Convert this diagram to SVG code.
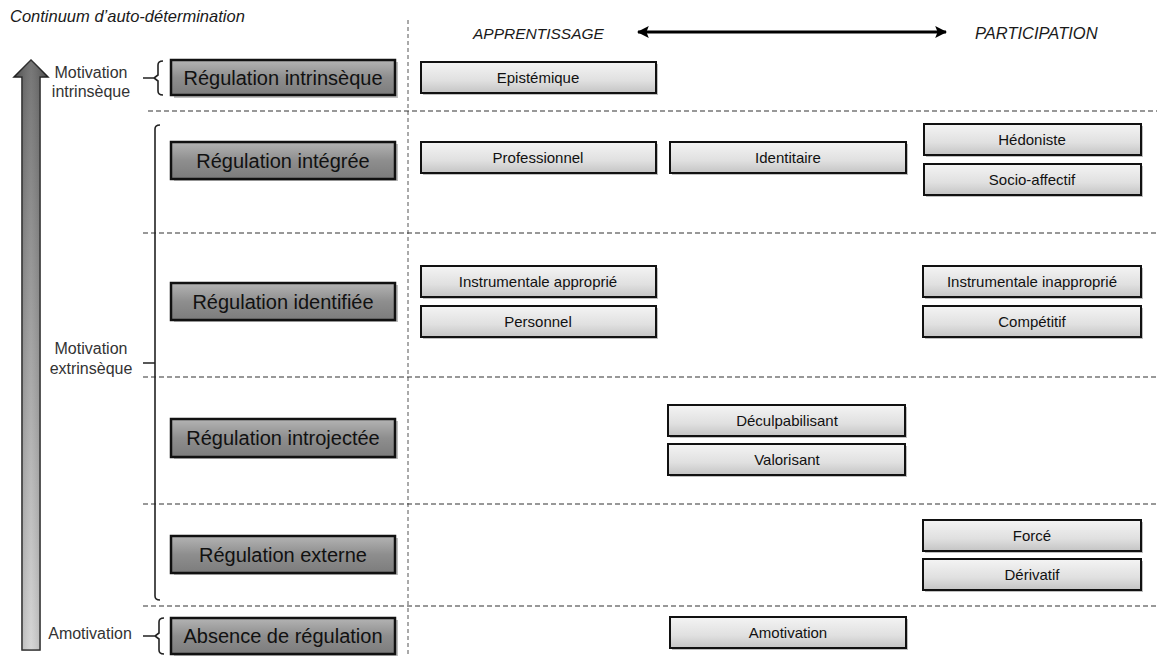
<svg xmlns="http://www.w3.org/2000/svg" width="1157" height="657" viewBox="0 0 1157 657">
<defs>
<linearGradient id="gBig" x1="0" y1="0" x2="0" y2="1">
<stop offset="0" stop-color="#b4b4b4"/>
<stop offset="0.5" stop-color="#8e8e8e"/>
<stop offset="1" stop-color="#7c7c7c"/>
</linearGradient>
<linearGradient id="gSmall" x1="0" y1="0" x2="0" y2="1">
<stop offset="0" stop-color="#f4f4f4"/>
<stop offset="0.6" stop-color="#e0e0e0"/>
<stop offset="1" stop-color="#c4c4c4"/>
</linearGradient>
<linearGradient id="gArrow" x1="0" y1="0" x2="0" y2="1">
<stop offset="0" stop-color="#5e5e5e"/>
<stop offset="1" stop-color="#cfcfcf"/>
</linearGradient>
<linearGradient id="gArrowH" x1="0" y1="0" x2="1" y2="0">
<stop offset="0" stop-color="#000" stop-opacity="0.25"/>
<stop offset="0.5" stop-color="#fff" stop-opacity="0.15"/>
<stop offset="1" stop-color="#000" stop-opacity="0.25"/>
</linearGradient>
<marker id="ah" viewBox="0 0 10 10" refX="9" refY="5" markerWidth="4" markerHeight="4" orient="auto-start-reverse" markerUnits="strokeWidth">
<path d="M0,0 L10,5 L0,10 L2,5 Z" fill="#000"/>
</marker>
</defs>
<style>
.t{font-family:"Liberation Sans",Arial,sans-serif;fill:#1a1a1a}
.it{font-style:italic}
.lab{font-size:16px;fill:#333}
.big rect.b{fill:url(#gBig);stroke:#111;stroke-width:2.5}
.big text{font-size:20px;text-anchor:middle;fill:#111}
.sm rect.b{fill:url(#gSmall);stroke:#111;stroke-width:2}
.sm text{font-size:15px;text-anchor:middle;fill:#111}
rect.sh{fill:#000;opacity:0.25}
.dash{stroke:#333;stroke-width:1.2;stroke-dasharray:5 3;fill:none}
.vdash{stroke:#555;stroke-width:1;stroke-dasharray:4 3;fill:none}
.br{stroke:#222;stroke-width:1.6;fill:none}
</style>
<rect width="1157" height="657" fill="#fff"/>

<text class="t it" x="10" y="22" style="font-size:16.5px">Continuum d’auto-détermination</text>
<text class="t it" x="473" y="39" style="font-size:15.5px">APPRENTISSAGE</text>
<text class="t it" x="975" y="39" style="font-size:16.5px">PARTICIPATION</text>

<g id="grid">
<line class="vdash" x1="408" y1="20" x2="408" y2="657"/>
<line class="dash" x1="148" y1="111" x2="1157" y2="111"/>
<line class="dash" x1="143" y1="233" x2="1157" y2="233"/>
<line class="dash" x1="143" y1="377" x2="1157" y2="377"/>
<line class="dash" x1="143" y1="504" x2="1157" y2="504"/>
<line class="dash" x1="143" y1="606" x2="1157" y2="606"/>
</g>

<g id="connectors">
<line x1="638" y1="32" x2="946" y2="32" stroke="#000" stroke-width="3" marker-start="url(#ah)" marker-end="url(#ah)"/>
</g>

<g id="continuum-arrow">
<path d="M31,60 L48,77 L40,77 L40,650 L22,650 L22,77 L14,77 Z" fill="url(#gArrow)" stroke="#222" stroke-width="1.5"/>
<path d="M31,60 L48,77 L40,77 L40,650 L22,650 L22,77 L14,77 Z" fill="url(#gArrowH)"/>
</g>

<g id="labels">
<text class="t lab" x="91" y="78" text-anchor="middle">Motivation</text>
<text class="t lab" x="91" y="97" text-anchor="middle">intrinsèque</text>
<text class="t lab" x="91" y="354" text-anchor="middle">Motivation</text>
<text class="t lab" x="91" y="374" text-anchor="middle">extrinsèque</text>
<text class="t lab" x="90" y="639" text-anchor="middle">Amotivation</text>
</g>

<g id="braces">
<path class="br" d="M163,61 Q158,61 158,65 L158,75 L154,78 L158,81 L158,91 Q158,95 163,95 M143,78 L154,78"/>
<path class="br" d="M160,125 Q155,125 155,129 L155,596 Q155,600 160,600 M143,363 L155,363"/>
<path class="br" d="M164,618 Q159,618 159,622 L159,633 L155,636 L159,639 L159,650 Q159,654 164,654 M143,636 L155,636"/>
</g>

<g id="reg-intrinseque" class="big"><rect class="sh" x="174" y="62" width="224" height="36"/><rect class="b" x="171" y="60" width="224" height="35"/><text class="t" x="283" y="85">Régulation intrinsèque</text></g>
<g id="reg-integree" class="big"><rect class="sh" x="174" y="144" width="224" height="37"/><rect class="b" x="171" y="142" width="224" height="37"/><text class="t" x="283" y="168">Régulation intégrée</text></g>
<g id="reg-identifiee" class="big"><rect class="sh" x="174" y="285" width="224" height="37"/><rect class="b" x="171" y="283" width="224" height="37"/><text class="t" x="283" y="309">Régulation identifiée</text></g>
<g id="reg-introjectee" class="big"><rect class="sh" x="174" y="421" width="224" height="38"/><rect class="b" x="171" y="419" width="224" height="38"/><text class="t" x="283" y="445">Régulation introjectée</text></g>
<g id="reg-externe" class="big"><rect class="sh" x="174" y="538" width="224" height="37"/><rect class="b" x="171" y="536" width="224" height="37"/><text class="t" x="283" y="562">Régulation externe</text></g>
<g id="reg-absence" class="big"><rect class="sh" x="174" y="620" width="224" height="36"/><rect class="b" x="171" y="618" width="224" height="36"/><text class="t" x="283" y="643">Absence de régulation</text></g>

<g id="epistemique" class="sm"><rect class="sh" x="423" y="64" width="235" height="31"/><rect class="b" x="421" y="62" width="235" height="31"/><text class="t" x="538" y="83">Epistémique</text></g>
<g id="professionnel" class="sm"><rect class="sh" x="423" y="144" width="235" height="31"/><rect class="b" x="421" y="142" width="235" height="31"/><text class="t" x="538" y="163">Professionnel</text></g>
<g id="identitaire" class="sm"><rect class="sh" x="672" y="144" width="236" height="31"/><rect class="b" x="670" y="142" width="236" height="31"/><text class="t" x="788" y="163">Identitaire</text></g>
<g id="hedoniste" class="sm"><rect class="sh" x="926" y="126" width="217" height="31"/><rect class="b" x="924" y="124" width="217" height="31"/><text class="t" x="1032" y="145">Hédoniste</text></g>
<g id="socio-affectif" class="sm"><rect class="sh" x="926" y="166" width="217" height="31"/><rect class="b" x="924" y="164" width="217" height="31"/><text class="t" x="1032" y="185">Socio-affectif</text></g>
<g id="instrumentale-approprie" class="sm"><rect class="sh" x="423" y="268" width="235" height="31"/><rect class="b" x="421" y="266" width="235" height="31"/><text class="t" x="538" y="287">Instrumentale approprié</text></g>
<g id="personnel" class="sm"><rect class="sh" x="423" y="308" width="235" height="31"/><rect class="b" x="421" y="306" width="235" height="31"/><text class="t" x="538" y="327">Personnel</text></g>
<g id="instrumentale-inapproprie" class="sm"><rect class="sh" x="925" y="268" width="218" height="31"/><rect class="b" x="923" y="266" width="218" height="31"/><text class="t" x="1032" y="287">Instrumentale inapproprié</text></g>
<g id="competitif" class="sm"><rect class="sh" x="925" y="308" width="218" height="31"/><rect class="b" x="923" y="306" width="218" height="31"/><text class="t" x="1032" y="327">Compétitif</text></g>
<g id="deculpabilisant" class="sm"><rect class="sh" x="670" y="407" width="237" height="31"/><rect class="b" x="668" y="405" width="237" height="31"/><text class="t" x="787" y="426">Déculpabilisant</text></g>
<g id="valorisant" class="sm"><rect class="sh" x="670" y="446" width="237" height="31"/><rect class="b" x="668" y="444" width="237" height="31"/><text class="t" x="787" y="465">Valorisant</text></g>
<g id="force" class="sm"><rect class="sh" x="925" y="522" width="218" height="31"/><rect class="b" x="923" y="520" width="218" height="31"/><text class="t" x="1032" y="541">Forcé</text></g>
<g id="derivatif" class="sm"><rect class="sh" x="925" y="561" width="218" height="31"/><rect class="b" x="923" y="559" width="218" height="31"/><text class="t" x="1032" y="580">Dérivatif</text></g>
<g id="amotivation" class="sm"><rect class="sh" x="672" y="619" width="236" height="31"/><rect class="b" x="670" y="617" width="236" height="31"/><text class="t" x="788" y="638">Amotivation</text></g>
</svg>
